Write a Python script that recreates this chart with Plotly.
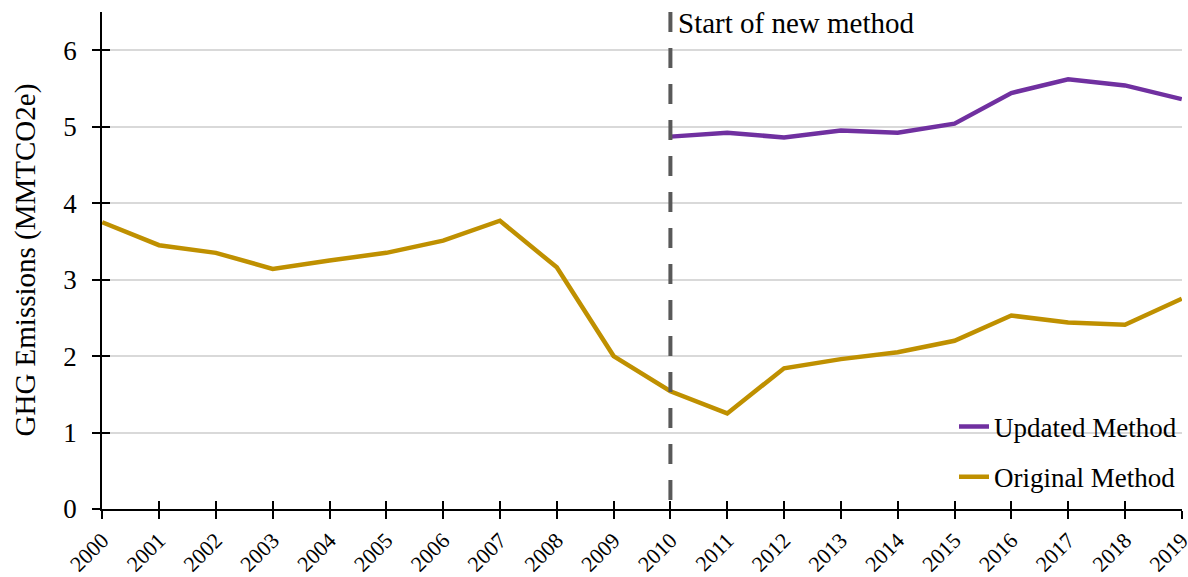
import plotly.graph_objects as go

years = list(range(2000, 2020))
original_method = [3.75, 3.45, 3.35, 3.14, 3.25, 3.35, 3.51, 3.77, 3.16, 2.00,
                   1.54, 1.25, 1.84, 1.96, 2.05, 2.20, 2.53, 2.44, 2.41, 2.75]
updated_years = list(range(2010, 2020))
updated_method = [4.87, 4.92, 4.86, 4.95, 4.92, 5.04, 5.44, 5.62, 5.54, 5.36]
method_change_year = 2010
y_ticks = [0, 1, 2, 3, 4, 5, 6]
y_max = 6.5
y_title = "GHG Emissions (MMTCO2e)"

FONT = "Liberation Serif, Times New Roman, serif"
PURPLE = "#7030A0"
GOLD = "#BF9000"
x_range = [years[0] - 0.004, years[-1] + 0.004]

fig = go.Figure()
fig.add_trace(go.Scatter(x=updated_years, y=updated_method, mode="lines",
                         name="Updated Method", line=dict(color=PURPLE, width=4.5),
                         legendgroup="a"))
fig.add_trace(go.Scatter(x=years, y=original_method, mode="lines",
                         name="Original Method", line=dict(color=GOLD, width=4.5),
                         legendgroup="b"))
# invisible helper trace so the overlay axes (inner half of the crossing ticks) are drawn
fig.add_trace(go.Scatter(x=[years[0]], y=[y_ticks[0]], xaxis="x2", yaxis="y2", mode="none",
                         showlegend=False, hoverinfo="skip"))

fig.add_shape(type="line", xref="x", yref="y", x0=method_change_year, x1=method_change_year,
              y0=y_max, y1=0, line=dict(color="#595959", width=4, dash="20px,16px"), layer="above")
fig.add_annotation(x=method_change_year, y=y_max, xref="x", yref="y", text="Start of new method",
                   showarrow=False, xanchor="left", yanchor="top", xshift=6, yshift=7,
                   font=dict(family=FONT, size=29, color="black"))
# y-axis title as a rotated annotation so it can sit closer to the page edge
fig.add_annotation(x=0, y=0.5, xref="paper", yref="paper", text=y_title, textangle=-90,
                   showarrow=False, xanchor="center", yanchor="middle", xshift=-77,
                   font=dict(family=FONT, size=29, color="black"))

axis_common = dict(showline=True, linecolor="black", linewidth=1.5,
                   tickcolor="black", tickwidth=1.5, ticklen=8, automargin=False)
fig.update_layout(
    width=1188, height=577,
    margin=dict(l=102, r=6, t=12, b=68, autoexpand=False),
    paper_bgcolor="white", plot_bgcolor="white",
    font=dict(family=FONT, size=24, color="black"),
    showlegend=True,
    legend=dict(x=1.0, y=0.015, xanchor="right", yanchor="bottom",
                bgcolor="rgba(0,0,0,0)", font=dict(family=FONT, size=27),
                traceorder="grouped", tracegroupgap=12),
    xaxis=dict(range=x_range, tickvals=years, ticktext=[str(y) for y in years],
               tickangle=-45, ticks="outside", showgrid=False, zeroline=False,
               ticklabeloverflow="allow",
               tickfont=dict(family=FONT, size=22), **axis_common),
    yaxis=dict(range=[0, y_max], tickvals=y_ticks, ticks="outside", showgrid=True,
               gridcolor="#d9d9d9", gridwidth=1.5, zeroline=False,
               ticklabelstandoff=10,
               tickfont=dict(family=FONT, size=27), **axis_common),
    xaxis2=dict(overlaying="x", anchor="y2", range=x_range, tickvals=years,
                showticklabels=False, ticks="inside", ticklen=8, tickwidth=1.5,
                tickcolor="black", showgrid=False, zeroline=False, showline=False),
    yaxis2=dict(overlaying="y", anchor="x2", range=[0, y_max], tickvals=y_ticks,
                showticklabels=False, ticks="inside", ticklen=8, tickwidth=1.5,
                tickcolor="black", showgrid=False, zeroline=False, showline=False),
)

fig.write_html("out.html", config={"displayModeBar": False},
               post_script="document.body.style.margin='0';")
